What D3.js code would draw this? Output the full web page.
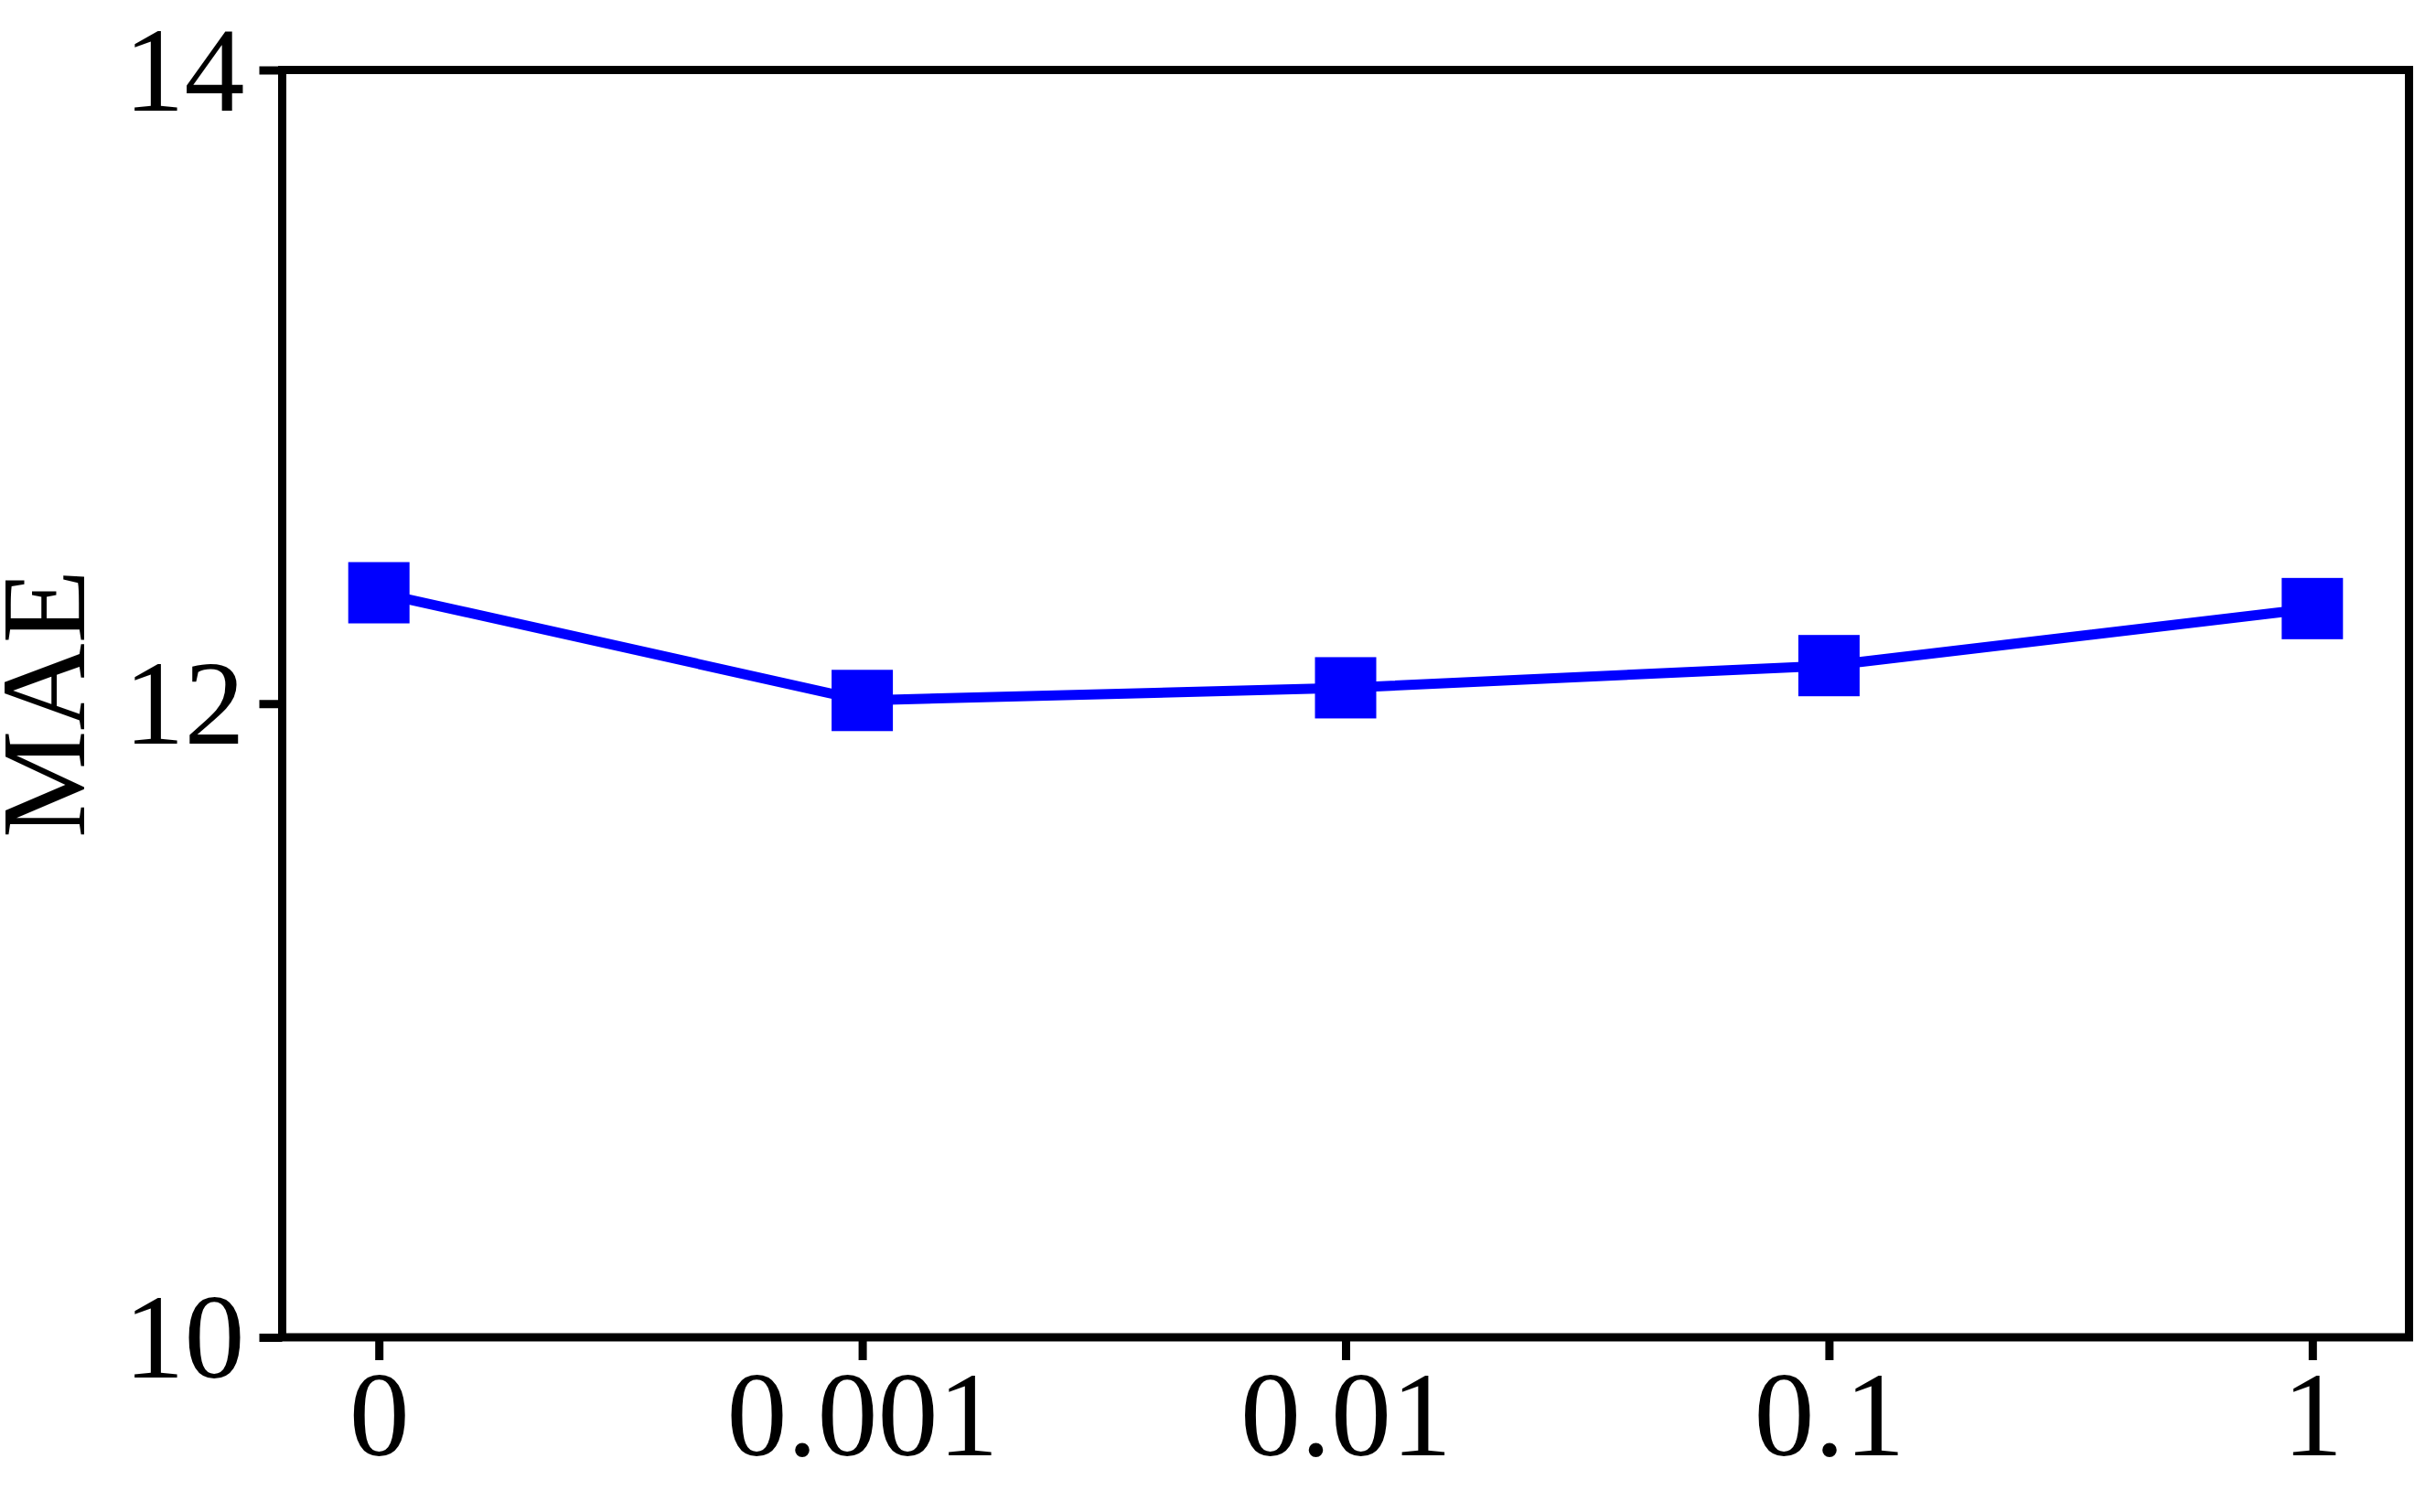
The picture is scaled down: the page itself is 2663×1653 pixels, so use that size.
<!DOCTYPE html>
<html>
<head>
<meta charset="utf-8">
<script src="https://d3js.org/d3.v7.min.js"></script>
<style>
  body { margin: 0; background: #fff; }
  text { font-family: "Liberation Serif", "Times New Roman", serif; fill: #000; }
</style>
</head>
<body>
<script>
  // data
  var categories = ['0', '0.001', '0.01', '0.1', '1'];
  var maeValues = [12.35, 12.01, 12.05, 12.12, 12.30];
  var yTicks = [10, 12, 14];

  var W = 2663, H = 1653;
  var margin = { top: 76.5, right: 29.5, bottom: 191, left: 308.5 };
  var plotW = W - margin.left - margin.right;
  var plotH = H - margin.top - margin.bottom;

  var svg = d3.select('body').append('svg')
    .attr('width', W)
    .attr('height', H);

  var g = svg.append('g')
    .attr('transform', 'translate(' + margin.left + ',' + margin.top + ')');

  var xScale = d3.scalePoint()
    .domain(categories)
    .range([0, plotW])
    .padding(0.2);

  var yScale = d3.scaleLinear()
    .domain([10, 14])
    .range([plotH, 0]);

  var fontSize = 132;

  // y axis
  var yAxis = g.append('g')
    .call(d3.axisLeft(yScale).tickValues(yTicks).tickFormat(d3.format('d'))
      .tickSizeInner(25).tickSizeOuter(0).tickPadding(16));
  yAxis.select('.domain').remove();
  yAxis.selectAll('.tick line').attr('stroke', '#000').attr('stroke-width', 9);
  yAxis.selectAll('.tick text')
    .attr('font-size', fontSize)
    .attr('dy', '0.33em');

  // x axis
  var xAxis = g.append('g')
    .attr('transform', 'translate(0,' + plotH + ')')
    .call(d3.axisBottom(xScale).tickSizeInner(25).tickSizeOuter(0).tickPadding(16));
  xAxis.select('.domain').remove();
  xAxis.selectAll('.tick line').attr('stroke', '#000').attr('stroke-width', 9);
  xAxis.selectAll('.tick text')
    .attr('font-size', fontSize)
    .attr('y', 129)
    .attr('dy', 0);

  // frame
  g.append('rect')
    .attr('x', 0).attr('y', 0)
    .attr('width', plotW).attr('height', plotH)
    .attr('fill', 'none')
    .attr('stroke', '#000')
    .attr('stroke-width', 9);

  var points = categories.map(function(c, i) { return { c: c, v: maeValues[i] }; });

  var line = d3.line()
    .x(d => xScale(d.c))
    .y(d => yScale(d.v));

  g.append('path')
    .datum(points)
    .attr('d', line)
    .attr('fill', 'none')
    .attr('stroke', '#0000ff')
    .attr('stroke-width', 11);

  var ms = 67;
  g.selectAll('rect.marker')
    .data(points)
    .join('rect')
      .attr('class', 'marker')
      .attr('x', d => xScale(d.c) - ms / 2)
      .attr('y', d => yScale(d.v) - ms / 2)
      .attr('width', ms)
      .attr('height', ms)
      .attr('fill', '#0000ff');

  // y label
  svg.append('text')
    .attr('transform', 'translate(92,' + (margin.top + plotH / 2) + ') rotate(-90)')
    .attr('text-anchor', 'middle')
    .attr('font-size', fontSize)
    .text('MAE');
</script>
</body>
</html>
